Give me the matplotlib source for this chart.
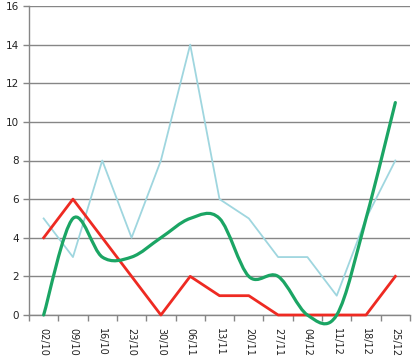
import matplotlib
matplotlib.use("Agg")
import matplotlib.pyplot as plt
from matplotlib.path import Path
from matplotlib.patches import PathPatch
import numpy as np

# data
weeks = ["02/10", "09/10", "16/10", "23/10", "30/10", "06/11", "13/11",
         "20/11", "27/11", "04/12", "11/12", "18/12", "25/12"]
light_blue = [5, 3, 8, 4, 8, 14, 6, 5, 3, 3, 1, 5, 8]
red = [4, 6, 4, 2, 0, 2, 1, 1, 0, 0, 0, 0, 2]
green = [0, 5, 3, 3, 4, 5, 5, 2, 2, 0, 0, 5, 11]

grid_col = "#868686"

fig = plt.figure(figsize=(4.15, 3.6), dpi=100)
ax = fig.add_axes([29/415, 1 - 315/360, 381/415, 309/360])

x = np.arange(len(weeks))
ax.plot(x, light_blue, color="#9fd6df", lw=1.3, zorder=3, clip_on=False)
ax.plot(x, red, color="#ee2a22", lw=2.0, zorder=4, clip_on=False)


# smoothed line like Excel's "smoothed line" option (bezier through the points)
def smooth_path(xs, ys):
    pts = np.column_stack([xs, ys]).astype(float)
    verts = [pts[0]]
    codes = [Path.MOVETO]
    n = len(pts)
    for i in range(n - 1):
        p0 = pts[i - 1] if i > 0 else pts[i]
        p1, p2 = pts[i], pts[i + 1]
        p3 = pts[i + 2] if i + 2 < n else pts[i + 1]
        c1 = p1 + (p2 - p0) / 6
        c2 = p2 - (p3 - p1) / 6
        verts += [c1, c2, p2]
        codes += [Path.CURVE4] * 3
    return Path(verts, codes)


ax.add_patch(PathPatch(smooth_path(x, green), facecolor="none",
                       edgecolor="#1ba564", lw=2.3, zorder=5,
                       capstyle="round", joinstyle="round", clip_on=False))

ax.set_xlim(-0.5, len(weeks) - 0.5)
ax.set_ylim(0, 16)
ax.set_yticks(range(0, 17, 2))
ax.set_xticks(x)
ax.set_xticklabels(weeks, rotation=270, fontsize=7, color="#222222")
ax.set_xticks(np.arange(-0.5, len(weeks), 1), minor=True)
ax.tick_params(axis="x", which="major", length=0, pad=9)
ax.tick_params(axis="x", which="minor", length=4, color=grid_col, width=1)
ax.tick_params(axis="y", length=4, color=grid_col, width=1, labelsize=7.5,
               labelcolor="#222222", pad=3)

ax.grid(axis="y", color=grid_col, lw=1)
ax.set_axisbelow(True)
for s in ["top", "right"]:
    ax.spines[s].set_visible(False)
for s in ["left", "bottom"]:
    ax.spines[s].set_color(grid_col)
    ax.spines[s].set_linewidth(1)

fig.savefig("out.png", dpi=100)
